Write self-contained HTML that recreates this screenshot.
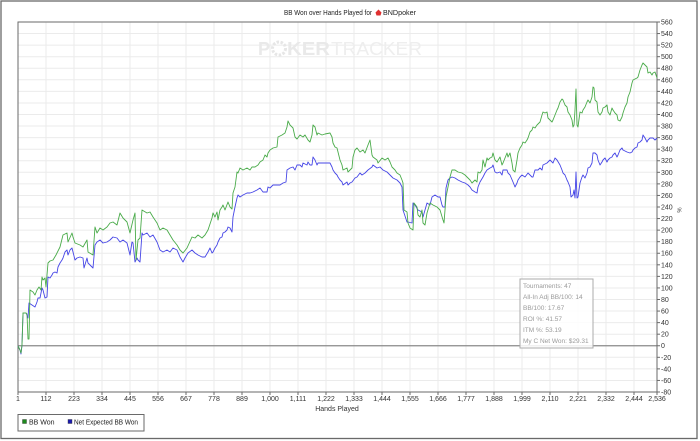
<!DOCTYPE html>
<html><head><meta charset="utf-8"><style>
html,body{margin:0;padding:0;background:#fff;}
svg{display:block;font-family:"Liberation Sans",sans-serif;}
</style></head><body>
<svg width="700" height="441" viewBox="0 0 700 441" xmlns="http://www.w3.org/2000/svg">
<rect x="0" y="0" width="700" height="441" fill="#fff"/>
<rect x="1" y="1" width="696" height="437.5" fill="none" stroke="#6a6a6a" stroke-width="1.3"/>
<!-- title -->
<text x="284" y="15" font-size="7" fill="#222" textLength="88" lengthAdjust="spacingAndGlyphs">BB Won over Hands Played for</text>
<path d="M378.5 9.5 L381.5 12.5 L380.5 15.5 L376.5 15.5 L375.5 12.5 Z" fill="#e03030"/>
<text x="383" y="15" font-size="7" fill="#222" textLength="33" lengthAdjust="spacingAndGlyphs">BNDpoker</text>
<!-- grid -->
<g stroke="#ebebeb" stroke-width="1">
<line x1="18" y1="33.56" x2="657" y2="33.56"/><line x1="18" y1="45.13" x2="657" y2="45.13"/><line x1="18" y1="56.69" x2="657" y2="56.69"/><line x1="18" y1="68.25" x2="657" y2="68.25"/><line x1="18" y1="79.81" x2="657" y2="79.81"/><line x1="18" y1="91.38" x2="657" y2="91.38"/><line x1="18" y1="102.94" x2="657" y2="102.94"/><line x1="18" y1="114.5" x2="657" y2="114.5"/><line x1="18" y1="126.06" x2="657" y2="126.06"/><line x1="18" y1="137.63" x2="657" y2="137.63"/><line x1="18" y1="149.19" x2="657" y2="149.19"/><line x1="18" y1="160.75" x2="657" y2="160.75"/><line x1="18" y1="172.31" x2="657" y2="172.31"/><line x1="18" y1="183.88" x2="657" y2="183.88"/><line x1="18" y1="195.44" x2="657" y2="195.44"/><line x1="18" y1="207" x2="657" y2="207"/><line x1="18" y1="218.56" x2="657" y2="218.56"/><line x1="18" y1="230.13" x2="657" y2="230.13"/><line x1="18" y1="241.69" x2="657" y2="241.69"/><line x1="18" y1="253.25" x2="657" y2="253.25"/><line x1="18" y1="264.81" x2="657" y2="264.81"/><line x1="18" y1="276.38" x2="657" y2="276.38"/><line x1="18" y1="287.94" x2="657" y2="287.94"/><line x1="18" y1="299.5" x2="657" y2="299.5"/><line x1="18" y1="311.06" x2="657" y2="311.06"/><line x1="18" y1="322.63" x2="657" y2="322.63"/><line x1="18" y1="334.19" x2="657" y2="334.19"/><line x1="18" y1="357.31" x2="657" y2="357.31"/><line x1="18" y1="368.88" x2="657" y2="368.88"/><line x1="18" y1="380.44" x2="657" y2="380.44"/>
<line x1="46" y1="22" x2="46" y2="392"/><line x1="74" y1="22" x2="74" y2="392"/><line x1="102" y1="22" x2="102" y2="392"/><line x1="130" y1="22" x2="130" y2="392"/><line x1="158" y1="22" x2="158" y2="392"/><line x1="186" y1="22" x2="186" y2="392"/><line x1="214" y1="22" x2="214" y2="392"/><line x1="242" y1="22" x2="242" y2="392"/><line x1="270" y1="22" x2="270" y2="392"/><line x1="298" y1="22" x2="298" y2="392"/><line x1="326" y1="22" x2="326" y2="392"/><line x1="354" y1="22" x2="354" y2="392"/><line x1="382" y1="22" x2="382" y2="392"/><line x1="410" y1="22" x2="410" y2="392"/><line x1="438" y1="22" x2="438" y2="392"/><line x1="466" y1="22" x2="466" y2="392"/><line x1="494" y1="22" x2="494" y2="392"/><line x1="522" y1="22" x2="522" y2="392"/><line x1="550" y1="22" x2="550" y2="392"/><line x1="578" y1="22" x2="578" y2="392"/><line x1="606" y1="22" x2="606" y2="392"/><line x1="634" y1="22" x2="634" y2="392"/>
</g>
<!-- watermark -->
<g fill="#e9e9e9">
<text x="258" y="55" font-size="18" font-weight="bold">P</text>
<circle cx="279" cy="48.5" r="6.5" fill="none" stroke="#e6e6e6" stroke-width="3" stroke-dasharray="2.5 1.5"/>
<text x="287" y="55" font-size="18" font-weight="bold" textLength="43" lengthAdjust="spacingAndGlyphs">KER</text>
<text x="331" y="55" font-size="18" fill="#eeeeee" textLength="91" lengthAdjust="spacingAndGlyphs">TRACKER</text>
</g>
<!-- zero line -->
<line x1="18" y1="345.75" x2="657" y2="345.75" stroke="#8a8a8a" stroke-width="1.3"/>
<!-- plot border -->
<rect x="18" y="22" width="639" height="370" fill="none" stroke="#6a6a6a" stroke-width="1"/>
<!-- series -->
<polyline fill="none" stroke="#4646e6" stroke-width="0.9" stroke-linejoin="round" points="18,346 20,350 21,354 22,345 23,313 26,313 27,315 28,318 29,303 32,305 35,307 37,302 38,298 40,298 42,288 43,290 45,298 47,297 48,277 50,278 52,275 53,273 55,272 57,273 58,267 60,263 62,260 63,258 65,252 67,250 68,255 70,250 72,248 73,252 75,260 77,258 80,257 83,258 84,268 87,258 88,263 92,267 93,268 95,245 97,242 100,240 103,243 107,242 110,240 113,237 117,238 120,242 123,240 127,243 128,247 130,255 132,242 133,243 135,262 137,258 138,260 140,262 142,233 143,235 147,233 150,237 153,235 157,242 160,250 163,252 167,250 170,252 173,248 177,250 180,257 183,262 185,258 188,253 192,250 195,253 198,255 202,257 205,257 208,252 210,248 212,253 213,252 215,248 217,245 218,242 220,238 222,237 223,233 225,232 227,230 228,227 230,228 232,232 233,217 235,207 237,198 238,195 240,197 243,195 247,193 250,193 253,192 257,190 260,188 263,192 267,192 268,187 270,188 273,185 277,185 280,185 283,183 286,182 287,170 290,168 293,167 295,170 297,165 300,165 302,167 303,163 307,165 308,162 310,165 312,165 313,157 315,160 317,165 318,163 322,163 325,163 330,163 332,167 333,170 335,173 337,175 338,177 340,180 342,182 343,185 347,182 348,185 350,183 352,182 355,178 357,177 360,173 362,175 365,173 368,170 372,167 373,165 377,168 380,167 383,170 387,172 390,175 393,178 397,180 400,183 402,187 403,210 407,222 408,222 412,223 413,203 415,205 418,210 422,212 423,217 425,210 427,203 430,205 432,197 435,195 438,197 440,197 442,205 443,207 445,207 446,188 448,180 450,178 452,177 455,178 458,180 462,182 465,183 468,185 470,187 472,190 475,192 477,193 478,187 480,182 483,177 485,173 487,170 490,168 492,167 493,165 495,172 497,173 500,172 502,175 503,170 507,170 508,173 510,175 513,182 515,187 517,183 518,180 520,177 522,175 525,177 528,173 532,177 533,177 535,170 538,170 540,168 542,170 543,165 547,163 550,160 553,163 555,158 557,160 560,165 562,170 563,173 565,175 567,180 568,182 570,187 571,197 573,195 574,190 575,198 576,172 577,198 578,197 579,190 580,183 582,177 583,175 585,178 587,173 588,168 590,167 592,163 593,153 595,153 597,155 598,160 600,165 602,162 603,160 605,158 607,162 608,160 610,158 612,157 613,155 615,153 617,157 618,155 620,150 622,148 623,150 627,152 630,153 632,152 633,150 635,148 637,147 638,143 640,142 642,140 643,135 645,138 647,142 648,140 650,138 653,138 655,140 657,138"/>
<polyline fill="none" stroke="#4aab4a" stroke-width="0.9" stroke-linejoin="round" points="18,346 20,350 21,353 22,345 23,313 26,313 27,314 28,339 29,339 30,290 33,292 35,295 37,290 39,287 41,290 42,277 43,280 45,278 46,287 48,263 50,261 53,260 56,255 60,247 63,235 67,233 68,242 72,233 73,237 75,243 80,245 83,247 87,240 88,252 93,255 95,227 97,233 100,228 103,230 107,227 110,223 113,222 117,225 120,213 123,218 127,222 130,233 133,220 135,213 136,260 138,240 140,238 142,210 147,213 150,212 153,217 157,223 160,230 163,228 167,230 170,235 173,240 177,245 180,250 183,253 187,248 192,237 195,238 198,235 202,238 205,235 208,230 212,218 213,213 215,217 217,212 218,220 220,210 222,207 223,205 225,210 228,202 230,207 232,209 233,193 235,187 237,172 238,173 240,168 243,170 247,168 250,170 252,167 255,167 258,165 260,162 263,160 265,155 267,157 268,153 270,150 273,148 277,147 278,137 282,135 285,133 287,127 288,121 290,125 293,128 295,137 297,139 300,135 303,137 305,135 308,140 310,142 312,135 313,125 315,127 317,135 318,133 322,135 325,134 330,133 332,137 333,143 335,147 337,148 338,152 340,160 342,165 343,170 347,168 348,172 352,168 353,157 355,150 357,148 360,152 363,150 365,153 368,145 370,140 372,155 373,157 377,160 378,163 382,158 385,160 388,158 390,162 392,167 395,170 397,173 400,175 402,180 403,183 404,210 407,212 408,223 410,228 413,230 414,203 417,207 418,215 420,217 422,210 423,223 425,225 427,213 430,203 433,205 437,207 440,210 443,220 444,223 446,197 448,187 450,177 452,170 455,170 458,172 462,173 465,175 470,180 472,183 473,182 475,180 477,182 478,172 480,173 482,170 483,160 485,167 487,158 488,160 490,158 492,157 493,153 495,160 497,162 500,157 502,165 503,163 507,153 508,157 510,153 512,163 513,170 515,172 517,160 518,153 520,148 522,145 523,142 525,143 527,140 528,138 530,132 532,130 533,127 535,128 537,125 540,122 542,115 543,112 545,113 547,112 548,118 550,120 552,122 553,120 555,115 557,110 558,108 560,102 562,99 563,100 565,105 567,107 568,112 570,115 572,120 573,127 574,125 575,110 576,89 577,125 578,127 580,112 582,113 583,110 585,107 587,102 588,100 590,103 592,97 593,87 594,88 595,100 597,102 598,112 600,115 602,112 603,108 605,107 607,105 608,112 610,115 612,108 613,110 615,113 617,115 618,120 620,121 622,117 623,113 625,107 627,103 628,97 630,92 632,83 633,80 637,78 638,77 640,70 642,65 643,63 645,65 647,67 648,73 650,72 652,75 653,73 655,72 657,78"/>
<!-- stats box -->
<rect x="520" y="279" width="73" height="69" fill="#fff" fill-opacity="0.85" stroke="#ababab" stroke-width="1"/>
<g font-size="6.5" fill="#9a9a9a">
<text x="523" y="288">Tournaments: 47</text>
<text x="523" y="299">All-In Adj BB/100: 14</text>
<text x="523" y="310">BB/100: 17.67</text>
<text x="523" y="321">ROI %: 41.57</text>
<text x="523" y="332">ITM %: 53.19</text>
<text x="523" y="343">My C Net Won: $29.31</text>
</g>
<!-- y ticks -->
<g stroke="#6a6a6a" stroke-width="1">
<line x1="657" y1="22" x2="660" y2="22"/><line x1="657" y1="33.56" x2="660" y2="33.56"/><line x1="657" y1="45.13" x2="660" y2="45.13"/><line x1="657" y1="56.69" x2="660" y2="56.69"/><line x1="657" y1="68.25" x2="660" y2="68.25"/><line x1="657" y1="79.81" x2="660" y2="79.81"/><line x1="657" y1="91.38" x2="660" y2="91.38"/><line x1="657" y1="102.94" x2="660" y2="102.94"/><line x1="657" y1="114.5" x2="660" y2="114.5"/><line x1="657" y1="126.06" x2="660" y2="126.06"/><line x1="657" y1="137.63" x2="660" y2="137.63"/><line x1="657" y1="149.19" x2="660" y2="149.19"/><line x1="657" y1="160.75" x2="660" y2="160.75"/><line x1="657" y1="172.31" x2="660" y2="172.31"/><line x1="657" y1="183.88" x2="660" y2="183.88"/><line x1="657" y1="195.44" x2="660" y2="195.44"/><line x1="657" y1="207" x2="660" y2="207"/><line x1="657" y1="218.56" x2="660" y2="218.56"/><line x1="657" y1="230.13" x2="660" y2="230.13"/><line x1="657" y1="241.69" x2="660" y2="241.69"/><line x1="657" y1="253.25" x2="660" y2="253.25"/><line x1="657" y1="264.81" x2="660" y2="264.81"/><line x1="657" y1="276.38" x2="660" y2="276.38"/><line x1="657" y1="287.94" x2="660" y2="287.94"/><line x1="657" y1="299.5" x2="660" y2="299.5"/><line x1="657" y1="311.06" x2="660" y2="311.06"/><line x1="657" y1="322.63" x2="660" y2="322.63"/><line x1="657" y1="334.19" x2="660" y2="334.19"/><line x1="657" y1="345.75" x2="660" y2="345.75"/><line x1="657" y1="357.31" x2="660" y2="357.31"/><line x1="657" y1="368.88" x2="660" y2="368.88"/><line x1="657" y1="380.44" x2="660" y2="380.44"/><line x1="657" y1="392" x2="660" y2="392"/>
<line x1="18" y1="392" x2="18" y2="395"/><line x1="46" y1="392" x2="46" y2="395"/><line x1="74" y1="392" x2="74" y2="395"/><line x1="102" y1="392" x2="102" y2="395"/><line x1="130" y1="392" x2="130" y2="395"/><line x1="158" y1="392" x2="158" y2="395"/><line x1="186" y1="392" x2="186" y2="395"/><line x1="214" y1="392" x2="214" y2="395"/><line x1="242" y1="392" x2="242" y2="395"/><line x1="270" y1="392" x2="270" y2="395"/><line x1="298" y1="392" x2="298" y2="395"/><line x1="326" y1="392" x2="326" y2="395"/><line x1="354" y1="392" x2="354" y2="395"/><line x1="382" y1="392" x2="382" y2="395"/><line x1="410" y1="392" x2="410" y2="395"/><line x1="438" y1="392" x2="438" y2="395"/><line x1="466" y1="392" x2="466" y2="395"/><line x1="494" y1="392" x2="494" y2="395"/><line x1="522" y1="392" x2="522" y2="395"/><line x1="550" y1="392" x2="550" y2="395"/><line x1="578" y1="392" x2="578" y2="395"/><line x1="606" y1="392" x2="606" y2="395"/><line x1="634" y1="392" x2="634" y2="395"/><line x1="657" y1="392" x2="657" y2="395"/>
</g>
<!-- y labels -->
<g font-size="7" fill="#333">
<text x="661" y="24.5">560</text><text x="661" y="36">540</text><text x="661" y="47.6">520</text><text x="661" y="59.2">500</text><text x="661" y="70.7">480</text><text x="661" y="82.3">460</text><text x="661" y="93.9">440</text><text x="661" y="105.4">420</text><text x="661" y="117">400</text><text x="661" y="128.6">380</text><text x="661" y="140.1">360</text><text x="661" y="151.7">340</text><text x="661" y="163.2">320</text><text x="661" y="174.8">300</text><text x="661" y="186.4">280</text><text x="661" y="197.9">260</text><text x="661" y="209.5">240</text><text x="661" y="221.1">220</text><text x="661" y="232.6">200</text><text x="661" y="244.2">180</text><text x="661" y="255.7">160</text><text x="661" y="267.3">140</text><text x="661" y="278.9">120</text><text x="661" y="290.4">100</text><text x="661" y="302">80</text><text x="661" y="313.6">60</text><text x="661" y="325.1">40</text><text x="661" y="336.7">20</text><text x="661" y="348.2">0</text><text x="661" y="359.8">-20</text><text x="661" y="371.4">-40</text><text x="661" y="382.9">-60</text><text x="661" y="394.5">-80</text>
</g>
<text x="679" y="212" font-size="6" fill="#333" text-anchor="middle" transform="rotate(90 679 210)">%</text>
<!-- x labels -->
<g font-size="7" fill="#333" text-anchor="middle">
<text x="18" y="401">1</text><text x="46" y="401">112</text><text x="74" y="401">223</text><text x="102" y="401">334</text><text x="130" y="401">445</text><text x="158" y="401">556</text><text x="186" y="401">667</text><text x="214" y="401">778</text><text x="242" y="401">889</text><text x="270" y="401">1,000</text><text x="298" y="401">1,111</text><text x="326" y="401">1,222</text><text x="354" y="401">1,333</text><text x="382" y="401">1,444</text><text x="410" y="401">1,555</text><text x="438" y="401">1,666</text><text x="466" y="401">1,777</text><text x="494" y="401">1,888</text><text x="522" y="401">1,999</text><text x="550" y="401">2,110</text><text x="578" y="401">2,221</text><text x="606" y="401">2,332</text><text x="634" y="401">2,444</text><text x="657" y="401">2,536</text>
<text x="337" y="411">Hands Played</text>
</g>
<!-- legend -->
<rect x="18" y="414.5" width="126" height="16.5" fill="#fff" stroke="#6a6a6a" stroke-width="1"/>
<rect x="22.5" y="419.5" width="4" height="4" fill="#1d8a1d" stroke="#333" stroke-width="0.4"/>
<text x="29" y="424.5" font-size="7" fill="#222">BB Won</text>
<rect x="68" y="419.5" width="4" height="4" fill="#1a1ab0" stroke="#333" stroke-width="0.4"/>
<text x="74" y="424.5" font-size="7" fill="#222" textLength="64" lengthAdjust="spacingAndGlyphs">Net Expected BB Won</text>
</svg>
</body></html>
